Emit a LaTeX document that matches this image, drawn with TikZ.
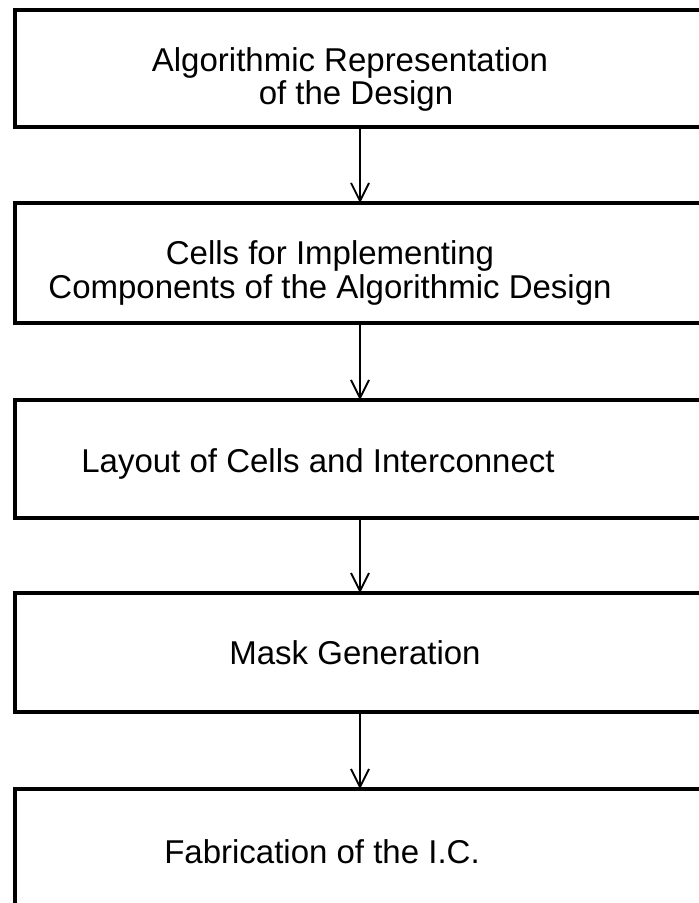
\documentclass[tikz,border=0pt]{standalone}
\usepackage{fontspec}
\setmainfont{Liberation Sans}
\usetikzlibrary{arrows.meta}
\begin{document}
\begin{tikzpicture}[x=1pt,y=-1pt,
  boxline/.style={line width=3.5pt, line join=miter},
  label/.style={font=\fontsize{33}{32}\selectfont, align=center, inner sep=0pt, anchor=base},
  flow/.style={line width=1.8pt, -{Straight Barb[length=18pt, width=18pt, line width=1.8pt]}}]
\useasboundingbox (0,0) rectangle (699,903);
% boxes (open to the right edge)
\draw[boxline] (705,10) -- (15,10) -- (15,127) -- (705,127);
\draw[boxline] (705,203) -- (15,203) -- (15,323) -- (705,323);
\draw[boxline] (705,400) -- (15,400) -- (15,518) -- (705,518);
\draw[boxline] (705,593) -- (15,593) -- (15,712) -- (705,712);
\draw[boxline] (705,789) -- (15,789) -- (15,910);
% connector endpoints
\coordinate (b1) at (360,127); \coordinate (t2) at (360,203);
\coordinate (b2) at (360,323); \coordinate (t3) at (360,400);
\coordinate (b3) at (360,518); \coordinate (t4) at (360,593);
\coordinate (b4) at (360,712); \coordinate (t5) at (360,789);
% texts
\node[label] (n1a) at (350,71) {Algorithmic Representation};
\node[label] (n1b) at (356,104) {of the Design};
\node[label] (n2a) at (330,264) {Cells for Implementing};
\node[label] (n2b) at (330,298) {Components of the Algorithmic Design};
\node[label] (n3) at (318,472) {Layout of Cells and Interconnect};
\node[label] (n4) at (355,664) {Mask Generation};
\node[label] (n5) at (322,863) {Fabrication of the I.C.};
% arrows
\draw[flow] (b1) -- (t2);
\draw[flow] (b2) -- (t3);
\draw[flow] (b3) -- (t4);
\draw[flow] (b4) -- (t5);
\end{tikzpicture}
\end{document}
